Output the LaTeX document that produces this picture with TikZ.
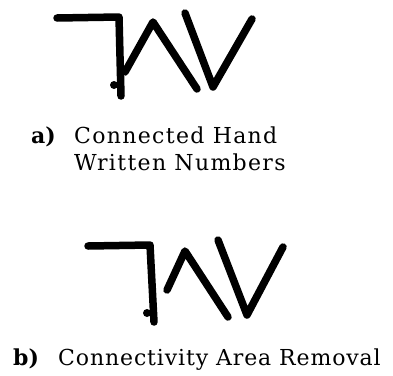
\documentclass[tikz,border=0pt]{standalone}
\usepackage{fontspec}
\setmainfont{DejaVu Serif}
\newfontfamily\widefont[LetterSpace=6]{DejaVu Serif}
\newfontfamily\midfont[LetterSpace=4]{DejaVu Serif}
\usetikzlibrary{positioning}

\begin{document}
\begin{tikzpicture}[x=1pt,y=-1pt,
  pen/.style={line width=7.5pt,line cap=round,line join=round},
  caption/.style={anchor=base west,inner sep=0pt,font=\fontsize{22}{26}\selectfont},
  tag/.style={anchor=base west,inner sep=0pt,font=\fontsize{22}{26}\selectfont\bfseries}]
\useasboundingbox (0,0) rectangle (393,375);
% a) connected digits
\coordinate (A1) at (57,18);
\coordinate (A2) at (119,17);
\coordinate (A3) at (121,96);
\coordinate (A4) at (125,72);
\coordinate (A5) at (153,22);
\coordinate (A6) at (197,89);
\coordinate (A7) at (185,13);
\coordinate (A8) at (213,87);
\coordinate (A9) at (252,19);
\draw [pen] (A1) -- (A2) -- (A3);
\draw [pen] (A4) -- (A5) -- (A6);
\draw [pen] (A7) -- (A8) -- (A9);
\fill (114,85) circle (4pt);
\node (TA) [tag] at (31,143) {a)};
\node (CA1) [caption] at (74,143) {\widefont Connected Hand};
\node (CA2) [caption] at (74,170) {\widefont Written Numbers};
% b) after removal
\coordinate (B1) at (88,246);
\coordinate (B2) at (150,245);
\coordinate (B3) at (154,322);
\coordinate (B4) at (167,290);
\coordinate (B5) at (185,251);
\coordinate (B6) at (228,317);
\coordinate (B7) at (218,240);
\coordinate (B8) at (247,315);
\coordinate (B9) at (283,247);
\draw [pen] (B1) -- (B2) -- (B3);
\draw [pen] (B4) -- (B5) -- (B6);
\draw [pen] (B7) -- (B8) -- (B9);
\fill (147,313) circle (4pt);
\node (TB) [tag] at (13,365) {b)};
\node (CB) [caption] at (58,365) {\midfont Connectivity Area Removal};
\end{tikzpicture}
\end{document}
